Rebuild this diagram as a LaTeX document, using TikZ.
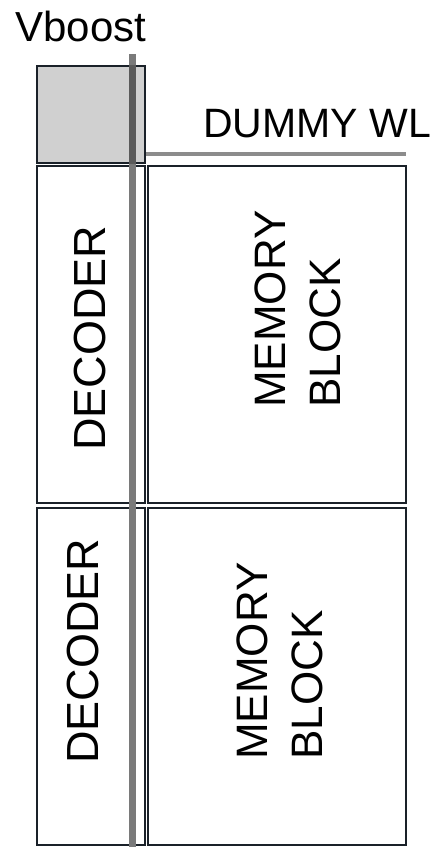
\documentclass[tikz,border=0pt]{standalone}
\usepackage{fontspec}
\setmainfont{Liberation Sans}
\definecolor{edge}{HTML}{1A2129}
\definecolor{boxgray}{HTML}{D0D0D0}
\definecolor{railgray}{HTML}{7A7A7A}
\definecolor{raildark}{HTML}{5A5A5A}
\definecolor{wlgray}{HTML}{8C8C8C}

\begin{document}
\begin{tikzpicture}[x=1pt,y=-1pt,
  blk/.style={draw=edge,line width=2.2pt,inner sep=0pt,fill=white},
  lbl/.style={inner sep=0pt,text=black},
  rail/.style={line width=7pt,draw=railgray}]
\useasboundingbox (0,0) rectangle (446,847);
%boxes
\node[blk,fill=boxgray,minimum width=108pt,minimum height=97pt] (boost) at (91,114.5){};
\node[blk,minimum width=108pt,minimum height=337pt] (dec1) at (91,334.5){};
\node[blk,minimum width=258pt,minimum height=337pt] (mem1) at (277,334.5){};
\node[blk,minimum width=108pt,minimum height=337pt] (dec2) at (91,676.5){};
\node[blk,minimum width=258pt,minimum height=337pt] (mem2) at (277,676.5){};
%vboost rail
\coordinate (railtop) at (132,54);
\coordinate (railbot) at (132,847);
\draw[rail] (railtop)--(railbot);
\draw[rail,draw=raildark] (boost.north -| railtop)--(boost.south -| railtop);
%dummy wordline
\coordinate (wlend) at (406,154);
\draw[line width=4pt,draw=wlgray] (boost.east |- wlend)--(wlend);
%labels
\node[lbl,anchor=base,font=\fontsize{42}{50}\selectfont] (vb) at (81,41){Vboost};
\node[lbl,anchor=base,font=\fontsize{41}{49}\selectfont] (dwl) at (317,137){DUMMY WL};
\node[lbl,rotate=90,anchor=base,font=\fontsize{45}{54}\selectfont] (dectxt1) at (105,338){DECODER};
\node[lbl,rotate=90,anchor=base,font=\fontsize{45}{54}\selectfont] (dectxt2) at (98,651){DECODER};
\node[lbl,rotate=90,anchor=base west,font=\fontsize{44}{52}\selectfont] (memtxt1) at (285,408){MEMORY};
\node[lbl,rotate=90,anchor=base west,font=\fontsize{44}{52}\selectfont] (blktxt1) at (340,408){BLOCK};
\node[lbl,rotate=90,anchor=base west,font=\fontsize{44}{52}\selectfont] (memtxt2) at (267,760){MEMORY};
\node[lbl,rotate=90,anchor=base west,font=\fontsize{44}{52}\selectfont] (blktxt2) at (322,760){BLOCK};
\end{tikzpicture}
\end{document}
